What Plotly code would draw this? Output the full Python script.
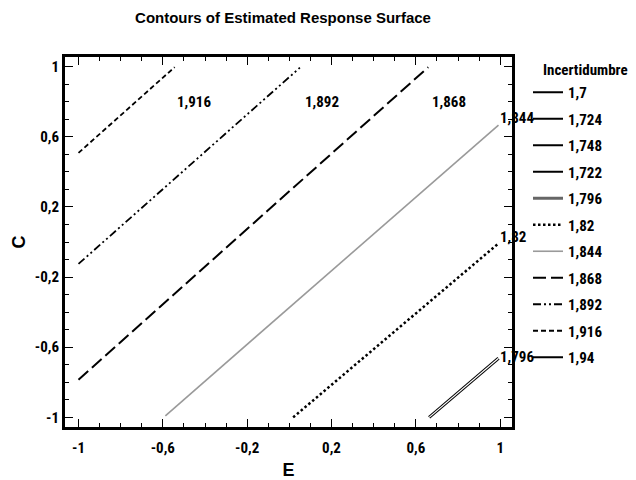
import plotly.graph_objects as go

# ---- data ----
legend_levels = ["1,7", "1,724", "1,748", "1,722", "1,796", "1,82", "1,844", "1,868", "1,892", "1,916", "1,94"]

# contour polylines (E, C) for levels visible in the plot
c1916_E = [-1.0, -0.544]
c1916_C = [0.508, 0.997]
c1892_E = [-1.0, 0.05]
c1892_C = [-0.125, 0.994]
c1868_E = [-1.0, 0.659]
c1868_C = [-0.785, 0.997]
c1844_E = [-0.588, 0.992]
c1844_C = [-0.991, 0.667]
c1820_E = [0.018, 0.992]
c1820_C = [-1.0, -0.008]
c1796_E = [0.663, 0.992]
c1796_C = [-1.0, -0.663]

# contour label texts and their anchor positions (E, C)
top_labels = ["1,916", "1,892", "1,868"]
top_label_E = [-0.451, 0.153, 0.757]
top_label_C = [0.80, 0.80, 0.80]
side_labels = ["1,844", "1,82", "1,796"]
side_label_E = [1.0, 1.0, 1.0]
side_label_C = [0.707, 0.03, -0.656]

tick_vals = [-1, -0.6, -0.2, 0.2, 0.6, 1]
tick_text = ["-1", "-0,6", "-0,2", "0,2", "0,6", "1"]

NARROW = "Roboto Condensed, Open Sans Condensed, sans-serif"
SANS = "Liberation Sans, Arial, sans-serif"

fig = go.Figure()

def add(name, x, y, color="black", width=2, dash="solid", show=True):
    fig.add_trace(go.Scatter(
        x=x, y=y, mode="lines", name=name, legendgroup=name,
        showlegend=show, hoverinfo="skip",
        line=dict(color=color, width=width, dash=dash)))

# legend order traces
add(legend_levels[0], [None], [None])
add(legend_levels[1], [None], [None])
add(legend_levels[2], [None], [None])
add(legend_levels[3], [None], [None])
add(legend_levels[4], [None], [None], color="#666666", width=3)
add(legend_levels[5], c1820_E, c1820_C, width=2.5, dash="2.5px,2.5px")
add(legend_levels[6], c1844_E, c1844_C, color="#9a9a9a", width=1.6)
add(legend_levels[7], c1868_E, c1868_C, width=2, dash="13px,5px")
add(legend_levels[8], c1892_E, c1892_C, width=1.8, dash="8px,3px,2px,3px,2px,3px")
add(legend_levels[9], c1916_E, c1916_C, width=1.8, dash="5px,3px")
add(legend_levels[10], [None], [None])

# double line for 1,796
add("1,796 outer", c1796_E, c1796_C, color="black", width=3.2, show=False)
add("1,796 inner", c1796_E, c1796_C, color="white", width=1.2, show=False)

label_font = dict(family=NARROW, size=15, color="black", weight="bold")
annotations = []
for t, e, c in zip(top_labels, top_label_E, top_label_C):
    annotations.append(dict(x=e, y=c, xref="x", yref="y", text=t, showarrow=False,
                            xanchor="center", yanchor="middle", font=label_font))
for t, e, c in zip(side_labels, side_label_E, side_label_C):
    annotations.append(dict(x=e, y=c, xref="x", yref="y", text=t, showarrow=False,
                            xanchor="left", yanchor="middle", xshift=-2, font=label_font))
# legend heading
annotations.append(dict(x=(585 - 65) / 447, y=1 - (70 - 57) / 370, xref="paper", yref="paper",
                        text="Incertidumbre", showarrow=False, xanchor="center", yanchor="middle",
                        font=label_font))

axis_common = dict(
    showgrid=False, zeroline=False, showline=True, linewidth=3, linecolor="black",
    mirror="allticks", ticks="inside", ticklen=8, tickwidth=1.2, tickcolor="black",
    tickvals=tick_vals, ticktext=tick_text, automargin=False,
    tickfont=dict(family=NARROW, size=15, color="black", weight="bold"),
    minor=dict(ticks="inside", ticklen=4, tickwidth=1, tickcolor="black", dtick=0.1, tick0=-1),
)

fig.update_layout(
    width=636, height=480,
    margin=dict(l=65, r=124, t=57, b=53, autoexpand=False),
    paper_bgcolor="white", plot_bgcolor="white",
    separators=",.",
    title=dict(text="Contours of Estimated Response Surface", x=283 / 636, xanchor="center",
               y=1 - 18 / 480, yanchor="middle",
               font=dict(family=SANS, size=15, color="black", weight="bold")),
    xaxis=dict(range=[-1.064, 1.056], ticklabelstandoff=5,
               title=dict(text="E", standoff=14,
                          font=dict(family=SANS, size=18, color="black", weight="bold")),
               **axis_common),
    yaxis=dict(range=[-1.055, 1.055], ticklabelstandoff=0,
               title=dict(text="C", standoff=5,
                          font=dict(family=SANS, size=18, color="black", weight="bold")),
               **axis_common),
    legend=dict(x=(528 - 65) / 447, y=1 - (76 - 57) / 370, xanchor="left", yanchor="top",
                font=dict(family=NARROW, size=15, color="black", weight="bold"),
                tracegroupgap=4, itemwidth=30, bgcolor="rgba(0,0,0,0)"),
    annotations=annotations,
    showlegend=True,
    hovermode=False,
)

fig.write_html("out.html", config={"displayModeBar": False},
               post_script="document.body.style.margin='0px';document.body.style.overflow='hidden';")
